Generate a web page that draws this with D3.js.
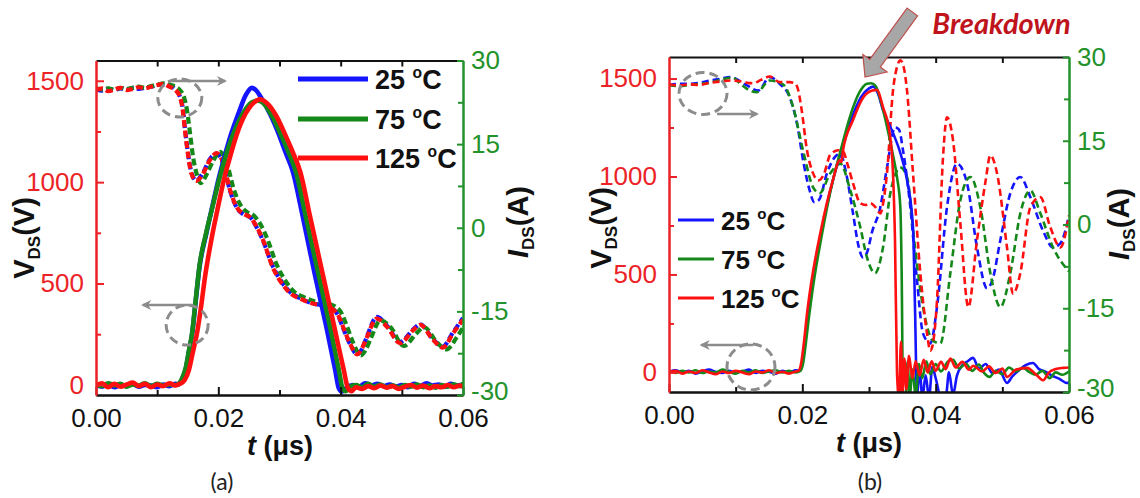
<!DOCTYPE html>
<html>
<head>
<meta charset="utf-8">
<script src="https://cdn.jsdelivr.net/npm/d3@7"></script>
<style>
  html, body { margin: 0; padding: 0; background: #ffffff; }
  svg { display: block; }
</style>
</head>
<body>
<svg id="fig" width="1140" height="498"></svg>
<script>
// ---------- axis ticks ----------
const timeDomain = [0, 0.06];
const timeTicks = [0, 0.02, 0.04, 0.06];
const timeMinor = [0.01, 0.03, 0.05];
const timeTop = [0.01, 0.02, 0.03, 0.04, 0.05];
const voltTicks = [0, 500, 1000, 1500];
const voltMinor = [250, 750, 1250];
const currDomain = [-30, 30];
const currTicks = [-30, -15, 0, 15, 30];
const currMinor = [-22.5, -7.5, 7.5, 22.5];
const temps = ["25", "75", "125"];

// ---------- (a) drain-source voltage V_DS [t (µs), V] ----------
const vA25 = [[0,-1],[0.001,-9],[0.002,2],[0.003,-12],[0.004,-1],[0.005,-6],[0.006,5],[0.007,-9],[0.008,-1],[0.009,-3],[0.010,-12],[0.011,2],[0.012,-6],[0.013,5],[0.0135,2],[0.0141,30],[0.0147,82],[0.0152,165],[0.0157,247],[0.0163,412],[0.0169,577],[0.018,742],[0.0191,891],[0.0201,1023],[0.0212,1146],[0.022,1229],[0.0233,1339],[0.0245,1430],[0.0255,1465],[0.0262,1452],[0.027,1416],[0.0285,1333],[0.0298,1243],[0.031,1146],[0.0322,1050],[0.0338,830],[0.0357,555],[0.0377,280],[0.0391,74],[0.0397,-17],[0.0402,-34],[0.041,-12],[0.042,-1],[0.043,-9],[0.044,8],[0.045,-3],[0.046,5],[0.047,-6],[0.048,2],[0.049,-9],[0.050,-1],[0.051,-12],[0.052,5],[0.053,-6],[0.054,8],[0.055,-3],[0.056,2],[0.057,-9],[0.058,5],[0.059,-3],[0.06,2]];
const vA75 = [[0,2],[0.001,-6],[0.002,8],[0.003,-3],[0.004,5],[0.005,-9],[0.006,2],[0.007,-3],[0.008,8],[0.009,-6],[0.010,5],[0.011,-3],[0.012,2],[0.013,-1],[0.0135,5],[0.0141,33],[0.0147,88],[0.0152,170],[0.0157,253],[0.0163,418],[0.0169,583],[0.018,748],[0.0191,885],[0.0201,1009],[0.0212,1127],[0.022,1201],[0.0233,1298],[0.0245,1361],[0.0255,1394],[0.0264,1402],[0.0272,1394],[0.0288,1325],[0.0303,1229],[0.0315,1146],[0.0327,1050],[0.0343,830],[0.0363,555],[0.0383,280],[0.0397,74],[0.0403,-17],[0.0408,-31],[0.0415,-9],[0.0425,-1],[0.0435,-12],[0.0445,5],[0.0455,-9],[0.0465,2],[0.0475,-12],[0.0485,-3],[0.0495,-14],[0.0505,-1],[0.0515,-9],[0.0525,2],[0.0535,-12],[0.0545,-3],[0.0555,-14],[0.0565,-1],[0.0575,-9],[0.0585,2],[0.0595,-6],[0.06,5]];
const vA125 = [[0,-3],[0.001,8],[0.002,-12],[0.003,5],[0.004,-9],[0.005,2],[0.006,11],[0.007,-6],[0.008,5],[0.009,-12],[0.010,2],[0.011,-6],[0.012,8],[0.013,-3],[0.0137,5],[0.0145,24],[0.0152,74],[0.0158,156],[0.0165,253],[0.0172,390],[0.0178,528],[0.0188,706],[0.0199,871],[0.021,1023],[0.022,1133],[0.0228,1215],[0.024,1311],[0.0252,1372],[0.0262,1402],[0.0268,1408],[0.028,1388],[0.0295,1325],[0.031,1229],[0.0322,1146],[0.0334,1050],[0.035,830],[0.037,555],[0.039,280],[0.0405,74],[0.0412,-17],[0.0418,-31],[0.0425,-12],[0.0435,-20],[0.0445,-6],[0.0455,-17],[0.0465,-3],[0.0475,-14],[0.0485,-6],[0.0495,-20],[0.0505,-9],[0.0515,-1],[0.0525,-14],[0.0535,-3],[0.0545,-17],[0.0555,-6],[0.0565,-12],[0.0575,-1],[0.0585,-12],[0.0595,-3],[0.06,-9]];

// ---------- (a) drain current I_DS [t (µs), A] ----------
const iA25 = [[0,24.8],[0.001,24.6],[0.002,24.9],[0.003,24.7],[0.004,25.0],[0.005,24.8],[0.006,25.1],[0.007,24.9],[0.008,25.1],[0.009,25.3],[0.010,25.6],[0.011,25.7],[0.012,25.5],[0.013,24.8],[0.0137,23.6],[0.0141,22.0],[0.0146,17.3],[0.0151,12.9],[0.0156,9.9],[0.0164,8.5],[0.0175,9.9],[0.0186,12.3],[0.0197,13.3],[0.0208,11.5],[0.0219,6.7],[0.023,3.6],[0.0241,2.4],[0.0252,1.9],[0.0263,0.0],[0.0273,-2.3],[0.0289,-6.9],[0.0306,-10.1],[0.0318,-11.6],[0.0333,-12.6],[0.0355,-13.6],[0.0377,-14.0],[0.0394,-15.4],[0.0404,-18.0],[0.0415,-20.8],[0.0427,-22.7],[0.0435,-21.7],[0.0443,-19.5],[0.0459,-16.0],[0.0476,-17.6],[0.0497,-20.5],[0.0519,-18.2],[0.053,-17.3],[0.0551,-20.0],[0.0567,-21.3],[0.0584,-18.7],[0.06,-16.2]];
const iA75 = [[0,25.0],[0.001,24.8],[0.002,25.0],[0.003,24.8],[0.004,25.1],[0.005,24.9],[0.006,25.1],[0.007,25.3],[0.008,25.1],[0.009,25.4],[0.010,25.6],[0.011,25.9],[0.012,25.7],[0.013,25.3],[0.0138,24.6],[0.0144,23.4],[0.0149,20.9],[0.0154,16.7],[0.0159,12.5],[0.0165,9.5],[0.0171,8.0],[0.0181,9.6],[0.0192,12.1],[0.0203,13.6],[0.0214,11.5],[0.0225,7.0],[0.0236,4.1],[0.0247,2.8],[0.0258,2.2],[0.0269,0.6],[0.0279,-1.7],[0.0295,-6.5],[0.0312,-9.9],[0.0324,-11.5],[0.0339,-12.4],[0.036,-13.3],[0.0382,-13.7],[0.0399,-14.9],[0.0409,-17.3],[0.042,-20.5],[0.0433,-22.9],[0.0441,-21.9],[0.0449,-19.9],[0.0465,-16.6],[0.0482,-17.9],[0.0503,-21.2],[0.0525,-18.8],[0.0536,-17.8],[0.0557,-20.5],[0.0573,-21.8],[0.059,-19.6],[0.06,-17.9]];
const iA125 = [[0,24.7],[0.001,25.0],[0.002,24.5],[0.003,24.8],[0.004,25.1],[0.005,24.7],[0.006,24.9],[0.007,25.2],[0.008,25.0],[0.009,25.3],[0.010,25.6],[0.011,25.8],[0.012,25.3],[0.013,24.7],[0.0137,23.5],[0.0141,21.7],[0.0146,17.0],[0.0151,12.7],[0.0156,9.7],[0.0164,8.4],[0.0175,9.7],[0.0186,12.1],[0.0197,13.4],[0.0208,11.6],[0.0219,6.8],[0.023,3.7],[0.0241,2.5],[0.0252,1.9],[0.0263,0.1],[0.0273,-2.2],[0.0289,-7.1],[0.0306,-10.3],[0.0318,-11.8],[0.0333,-12.7],[0.0355,-13.6],[0.0377,-14.1],[0.0394,-15.3],[0.0404,-17.8],[0.0415,-20.7],[0.0427,-22.7],[0.0435,-21.6],[0.0443,-19.6],[0.0459,-16.3],[0.0476,-17.8],[0.0497,-20.7],[0.0519,-18.3],[0.053,-17.4],[0.0551,-20.1],[0.0567,-21.5],[0.0584,-18.9],[0.06,-16.5]];

// ---------- (b) drain-source voltage V_DS [t (µs), V] ----------
const vB25 = [[0,3],[0.001,11],[0.002,0],[0.003,8],[0.004,-6],[0.005,5],[0.006,14],[0.007,3],[0.008,-3],[0.009,8],[0.010,0],[0.011,5],[0.012,14],[0.013,-3],[0.014,8],[0.015,3],[0.016,-6],[0.017,8],[0.018,0],[0.019,11],[0.0196,8],[0.02,43],[0.0204,142],[0.0209,290],[0.0214,419],[0.0228,704],[0.0246,983],[0.0259,1134],[0.0274,1297],[0.0288,1405],[0.03,1450],[0.0306,1459],[0.0313,1428],[0.0321,1339],[0.0336,1222],[0.0347,1120],[0.0357,983],[0.0366,741],[0.0369,333],[0.0372,-114],[0.0376,14],[0.038,-129],[0.0385,-15],[0.039,-129],[0.0395,28],[0.040,-29],[0.0408,-129],[0.0415,-129],[0.042,0],[0.0426,-114],[0.0432,-15],[0.044,37],[0.0448,57],[0.0456,74],[0.0465,20],[0.0475,43],[0.0485,-3],[0.0495,14],[0.0507,-54],[0.0515,-20],[0.0525,11],[0.0535,37],[0.0546,48],[0.0555,17],[0.0565,3],[0.0575,-17],[0.0585,-32],[0.0597,-54],[0.06,-52]];
const vB75 = [[0,5],[0.001,-3],[0.002,8],[0.003,0],[0.004,11],[0.005,-3],[0.006,5],[0.007,0],[0.008,14],[0.009,3],[0.010,-6],[0.011,8],[0.012,0],[0.013,11],[0.014,-3],[0.015,5],[0.016,11],[0.017,0],[0.018,8],[0.019,0],[0.0197,8],[0.0201,43],[0.0205,142],[0.021,285],[0.0215,413],[0.0229,698],[0.0246,983],[0.0258,1140],[0.0272,1311],[0.0285,1425],[0.0297,1473],[0.0303,1476],[0.031,1462],[0.0318,1382],[0.0327,1254],[0.0335,1126],[0.0342,997],[0.0347,843],[0.0349,507],[0.0351,-114],[0.0355,-129],[0.0358,57],[0.0361,-129],[0.0365,14],[0.037,-114],[0.0375,43],[0.038,-29],[0.0386,57],[0.0392,-9],[0.040,43],[0.0408,5],[0.0418,54],[0.0426,65],[0.0435,20],[0.0445,45],[0.0455,8],[0.0465,40],[0.0472,0],[0.0481,-23],[0.049,8],[0.050,-9],[0.051,25],[0.052,5],[0.0531,23],[0.054,3],[0.055,-12],[0.056,8],[0.0571,-29],[0.058,0],[0.059,-12],[0.06,5]];
const vB125 = [[0,0],[0.001,8],[0.002,-6],[0.003,5],[0.004,-3],[0.005,11],[0.006,0],[0.007,-9],[0.008,5],[0.009,-3],[0.010,8],[0.011,0],[0.012,-9],[0.013,5],[0.014,0],[0.015,11],[0.016,-3],[0.017,3],[0.018,-6],[0.019,5],[0.0194,8],[0.0198,43],[0.0202,142],[0.0207,299],[0.0212,427],[0.0227,712],[0.0246,983],[0.0256,1083],[0.0259,1074],[0.0261,1134],[0.0276,1288],[0.0291,1402],[0.0305,1439],[0.0312,1442],[0.0321,1354],[0.0331,1222],[0.0336,1017],[0.0339,675],[0.0342,-3],[0.0345,-129],[0.0348,157],[0.035,-129],[0.0353,71],[0.0356,-86],[0.036,85],[0.0365,-29],[0.037,57],[0.0376,-15],[0.0382,65],[0.0388,0],[0.0394,57],[0.040,8],[0.0408,54],[0.0415,17],[0.0422,71],[0.043,25],[0.044,54],[0.045,14],[0.0456,34],[0.047,5],[0.048,31],[0.049,-3],[0.050,20],[0.0507,-23],[0.052,14],[0.0537,23],[0.055,-9],[0.0561,-40],[0.057,0],[0.058,17],[0.0591,23],[0.06,25]];

// ---------- (b) drain current I_DS [t (µs), A] ----------
const iB25 = [[0,25.0],[0.0015,25.2],[0.003,25.2],[0.0045,25.4],[0.0062,25.8],[0.0077,26.1],[0.0092,26.4],[0.0105,25.8],[0.0117,24.9],[0.0134,24.0],[0.0151,26.4],[0.0166,25.2],[0.0181,22.8],[0.0192,18.1],[0.0202,10.9],[0.0211,6.1],[0.0218,4.0],[0.0225,4.4],[0.0237,9.2],[0.0249,12.1],[0.0257,12.7],[0.0265,9.6],[0.0276,2.0],[0.0284,-3.7],[0.0291,-5.9],[0.0298,-4.7],[0.0304,-1.6],[0.0317,3.1],[0.0327,10.2],[0.0339,17.4],[0.0345,17.0],[0.0351,13.3],[0.0362,3.1],[0.0372,-10.0],[0.0381,-19.5],[0.0392,-21.3],[0.0402,-14.8],[0.0417,3.1],[0.0432,10.9],[0.0447,7.4],[0.0462,-4.1],[0.0477,-11.4],[0.0485,-10.0],[0.0497,-2.8],[0.0512,5.6],[0.0527,8.5],[0.0542,4.9],[0.0561,-1.1],[0.0576,-4.1],[0.0587,-3.4],[0.06,1.6]];
const iB75 = [[0,24.9],[0.0015,24.8],[0.003,25.0],[0.0045,25.2],[0.0062,25.4],[0.0077,25.9],[0.0095,26.3],[0.0108,25.1],[0.0121,24.0],[0.0132,23.7],[0.0151,25.8],[0.0171,25.1],[0.0186,21.1],[0.0201,13.3],[0.0216,6.7],[0.0226,5.6],[0.0242,9.2],[0.0257,10.9],[0.0272,6.1],[0.0287,-0.5],[0.0297,-5.9],[0.0309,-8.7],[0.0321,-4.1],[0.0332,5.6],[0.0347,10.2],[0.0357,8.5],[0.0369,-4.1],[0.0381,-14.8],[0.0396,-20.8],[0.0407,-21.3],[0.0422,-8.7],[0.0437,4.3],[0.0452,8.5],[0.0467,3.1],[0.0482,-8.7],[0.0497,-14.8],[0.0512,-8.7],[0.0527,2.0],[0.0542,6.1],[0.0557,2.0],[0.0576,-4.1],[0.06,-8.4]];
const iB125 = [[0,25.1],[0.0015,24.9],[0.003,25.1],[0.0045,25.0],[0.0062,25.4],[0.0077,25.6],[0.0092,25.8],[0.0105,25.7],[0.0117,25.4],[0.0126,25.3],[0.0138,25.9],[0.0151,26.5],[0.0166,25.5],[0.0181,25.5],[0.0189,25.3],[0.0194,24.0],[0.0199,20.5],[0.0207,13.3],[0.0216,9.2],[0.0224,7.9],[0.0232,8.9],[0.0242,12.5],[0.0254,13.3],[0.0261,13.1],[0.0268,10.7],[0.0276,7.4],[0.0287,3.8],[0.0295,3.5],[0.0302,3.8],[0.0309,3.2],[0.0317,2.0],[0.0322,4.4],[0.0327,9.2],[0.0336,24.0],[0.0342,28.2],[0.0347,29.4],[0.0352,28.2],[0.0357,24.0],[0.0366,9.2],[0.0377,-8.7],[0.0387,-19.5],[0.0392,-22.6],[0.0397,-20.5],[0.0402,-13.6],[0.0411,12.0],[0.0417,19.2],[0.0426,15.1],[0.0437,0.2],[0.0449,-14.8],[0.0462,-2.8],[0.0475,7.9],[0.0482,12.4],[0.0492,9.2],[0.0507,-4.1],[0.0516,-12.4],[0.0527,-8.7],[0.0542,3.1],[0.0557,4.9],[0.0572,-0.5],[0.0587,-4.1],[0.06,1.6]];

// ---------- styling ----------
const FONT = "'Liberation Sans', Arial, Helvetica, sans-serif";
const seriesColors = ["#1414ff", "#15881a", "#ff1010"];
const voltColor = "#ec2226";
const currColor = "#23922a";
const markColor = "#8c8c8c";
const plainNumber = d => String(d);   // keeps "1500" and "-15" (ASCII hyphen)

const svg = d3.select("#fig");
const defs = svg.append("defs");
defs.append("marker")
  .attr("id", "grayHead").attr("viewBox", "0 0 10 10")
  .attr("refX", 8).attr("refY", 5)
  .attr("markerWidth", 4.2).attr("markerHeight", 4.2)
  .attr("markerUnits", "strokeWidth").attr("orient", "auto")
  .append("path").attr("d", "M0,0 L10,5 L0,10 L3,5 z").attr("fill", markColor);

const panels = [
  {
    id: "a", left: 96, right: 463, top: 60.5, bottom: 395, vDomain: [-50, 1600],
    volt: [vA25, vA75, vA125], curr: [iA25, iA75, iA125],
    solidW: 4.6, dashW: 4.2, dash: "7,3.5", axisW: 2,
    legend: { x0: 298, x1: 368, tx: 375, ys: [79, 119, 158], w: 5, font: 27 },
    vTitle: { x: 34, y: 238 }, iTitle: { x: 528, y: 222 },
    tTitle: { x: 280, y: 455 }, tag: { x: 222, y: 490, text: "(a)" },
    rings: [{ t: 0.0137, v: 1415, rx: 22, ry: 19 }, { t: 0.0149, v: 295, rx: 21, ry: 20 }],
    pointers: [{ t0: 0.0124, v0: 1499, t1: 0.0211, v1: 1499 }, { t0: 0.0159, v0: 394, t1: 0.0077, v1: 394 }]
  },
  {
    id: "b", left: 669, right: 1069, top: 57, bottom: 392, vDomain: [-100, 1610],
    volt: [vB25, vB75, vB125], curr: [iB25, iB75, iB125],
    solidW: 2.6, dashW: 2.6, dash: "7,4", axisW: 2,
    legend: { x0: 678, x1: 714, tx: 721, ys: [220, 259, 298], w: 3, font: 26 },
    vTitle: { x: 611, y: 228 }, iTitle: { x: 1129, y: 224 },
    tTitle: { x: 869, y: 452 }, tag: { x: 870, y: 490, text: "(b)" },
    rings: [{ t: 0.0051, v: 1424, rx: 24, ry: 21 }, { t: 0.0123, v: 28, rx: 24, ry: 23 }],
    pointers: [{ t0: 0.0072, v0: 1319, t1: 0.0132, v1: 1319 }, { t0: 0.0126, v0: 140, t1: 0.0049, v1: 140 }],
    breakdown: { tipT: 0.0294, tipV: 1508, tailT: 0.0365, tailV: 1840, textT: 0.0395, textV: 1728 }
  }
];

function styleAxis(sel, color, width, size) {
  sel.select(".domain").attr("stroke", color).attr("stroke-width", width);
  sel.selectAll(".tick line").attr("stroke", color).attr("stroke-width", width);
  sel.selectAll(".tick text").attr("fill", color).attr("font-size", size).attr("font-family", FONT);
}

function drawPanel(p) {
  const x = d3.scaleLinear().domain(timeDomain).range([p.left, p.right]);
  const yV = d3.scaleLinear().domain(p.vDomain).range([p.bottom, p.top]);
  const yI = d3.scaleLinear().domain(currDomain).range([p.bottom, p.top]);
  const g = svg.append("g").attr("class", "panel-" + p.id);

  defs.append("clipPath").attr("id", "clip-" + p.id)
    .append("rect").attr("x", p.left).attr("y", p.top)
    .attr("width", p.right - p.left).attr("height", p.bottom - p.top);

  const plot = g.append("g").attr("clip-path", `url(#clip-${p.id})`);
  const lineI = d3.line().x(d => x(d[0])).y(d => yI(d[1])).curve(d3.curveMonotoneX);
  const lineV = d3.line().x(d => x(d[0])).y(d => yV(d[1])).curve(d3.curveMonotoneX);

  // current traces (dashed, right axis)
  p.curr.forEach((s, k) => {
    plot.append("path").datum(s).attr("d", lineI)
      .attr("fill", "none").attr("stroke", seriesColors[k])
      .attr("stroke-width", p.dashW).attr("stroke-dasharray", p.dash)
      .attr("stroke-linejoin", "round");
  });
  // voltage traces (solid, left axis)
  p.volt.forEach((s, k) => {
    plot.append("path").datum(s).attr("d", lineV)
      .attr("fill", "none").attr("stroke", seriesColors[k])
      .attr("stroke-width", p.solidW).attr("stroke-linejoin", "round")
      .attr("stroke-linecap", "round");
  });

  // axes
  const fs = 26;
  const top = g.append("g").attr("transform", `translate(0,${p.top})`)
    .call(d3.axisTop(x).tickValues(timeTop).tickSize(-6).tickSizeOuter(0).tickFormat(() => ""));
  styleAxis(top, "#111", p.axisW, fs);

  const bottomMinor = g.append("g").attr("transform", `translate(0,${p.bottom})`)
    .call(d3.axisBottom(x).tickValues(timeMinor).tickSize(-5).tickSizeOuter(0).tickFormat(() => ""));
  styleAxis(bottomMinor, "#111", p.axisW, fs);
  const bottom = g.append("g").attr("transform", `translate(0,${p.bottom})`)
    .call(d3.axisBottom(x).tickValues(timeTicks).tickSize(-8).tickSizeOuter(0).tickPadding(14).tickFormat(d3.format(".2f")));
  styleAxis(bottom, "#111", p.axisW, fs);

  const leftMinor = g.append("g").attr("transform", `translate(${p.left},0)`)
    .call(d3.axisLeft(yV).tickValues(voltMinor).tickSize(-5).tickSizeOuter(0).tickFormat(() => ""));
  styleAxis(leftMinor, voltColor, p.axisW, fs);
  const left = g.append("g").attr("transform", `translate(${p.left},0)`)
    .call(d3.axisLeft(yV).tickValues(voltTicks).tickSize(-8).tickSizeOuter(0).tickPadding(12).tickFormat(plainNumber));
  styleAxis(left, voltColor, p.axisW, fs);

  const rightMinor = g.append("g").attr("transform", `translate(${p.right},0)`)
    .call(d3.axisRight(yI).tickValues(currMinor).tickSize(-5).tickSizeOuter(0).tickFormat(() => ""));
  styleAxis(rightMinor, currColor, p.axisW, fs);
  const right = g.append("g").attr("transform", `translate(${p.right},0)`)
    .call(d3.axisRight(yI).tickValues(currTicks).tickSize(-6).tickSizeOuter(0).tickPadding(8).tickFormat(plainNumber));
  styleAxis(right, currColor, p.axisW, fs);
  // lift the lowest current label a little so it clears the last time label
  right.selectAll(".tick text").filter(d => d === currDomain[0]).attr("y", -4);

  // axis titles
  const vt = g.append("text").attr("font-family", FONT).attr("font-weight", "bold")
    .attr("font-size", 29).attr("fill", "#111").attr("text-anchor", "middle")
    .attr("transform", `translate(${p.vTitle.x},${p.vTitle.y}) rotate(-90)`);
  vt.append("tspan").text("V");
  vt.append("tspan").attr("font-size", 17).attr("dy", 6).text("DS");
  vt.append("tspan").attr("dy", -6).text("(V)");

  const it = g.append("text").attr("font-family", FONT).attr("font-weight", "bold")
    .attr("font-size", 29).attr("fill", "#111").attr("text-anchor", "middle")
    .attr("transform", `translate(${p.iTitle.x},${p.iTitle.y}) rotate(-90)`);
  it.append("tspan").attr("font-style", "italic").text("I");
  it.append("tspan").attr("font-size", 17).attr("dy", 6).text("DS");
  it.append("tspan").attr("dy", -6).text("(A)");

  const tt = g.append("text").attr("font-family", FONT).attr("font-weight", "bold")
    .attr("font-size", 27).attr("fill", "#111").attr("text-anchor", "middle")
    .attr("x", p.tTitle.x).attr("y", p.tTitle.y);
  tt.append("tspan").attr("font-style", "italic").text("t");
  tt.append("tspan").text(" (\u03bcs)");

  g.append("text").attr("x", p.tag.x).attr("y", p.tag.y).attr("text-anchor", "middle")
    .attr("font-family", "Lato, 'Open Sans', sans-serif").attr("font-size", 23)
    .attr("fill", "#222").text(p.tag.text);

  // legend
  temps.forEach((t, k) => {
    const ly = p.legend.ys[k];
    g.append("line").attr("x1", p.legend.x0).attr("x2", p.legend.x1)
      .attr("y1", ly).attr("y2", ly).attr("stroke", seriesColors[k])
      .attr("stroke-width", p.legend.w);
    const lt = g.append("text").attr("x", p.legend.tx).attr("y", ly + 9.5)
      .attr("font-family", FONT).attr("font-weight", "bold")
      .attr("font-size", p.legend.font).attr("fill", "#111");
    lt.append("tspan").text(t + " ");
    lt.append("tspan").attr("font-size", p.legend.font * 0.58).attr("dy", -11).text("o");
    lt.append("tspan").attr("dy", 11).text("C");
  });

  // dashed rings and pointers marking which axis each trace group uses
  p.rings.forEach(r => {
    g.append("ellipse").attr("cx", x(r.t)).attr("cy", yV(r.v))
      .attr("rx", r.rx).attr("ry", r.ry).attr("fill", "none")
      .attr("stroke", markColor).attr("stroke-width", 3).attr("stroke-dasharray", "9,5");
  });
  p.pointers.forEach(a => {
    g.append("line").attr("x1", x(a.t0)).attr("y1", yV(a.v0))
      .attr("x2", x(a.t1)).attr("y2", yV(a.v1))
      .attr("stroke", markColor).attr("stroke-width", 2.4)
      .attr("marker-end", "url(#grayHead)");
  });

  // breakdown call-out
  if (p.breakdown) {
    const b = p.breakdown;
    const tip = [x(b.tipT), yV(b.tipV)], tail = [x(b.tailT), yV(b.tailV)];
    const dx = tip[0] - tail[0], dy = tip[1] - tail[1];
    const len = Math.hypot(dx, dy);
    const u = [dx / len, dy / len], n = [-u[1], u[0]];
    const headL = 17, headW = 15, shaftW = 6.5;
    const base = [tip[0] - u[0] * headL, tip[1] - u[1] * headL];
    const pt = (o, s) => [o[0] + n[0] * s, o[1] + n[1] * s];
    const poly = [pt(tail, shaftW), pt(base, shaftW), pt(base, headW), tip,
                  pt(base, -headW), pt(base, -shaftW), pt(tail, -shaftW)];
    g.append("path").attr("d", "M" + poly.map(q => q.join(",")).join("L") + "Z")
      .attr("fill", "#a7a7a7").attr("stroke", "#c0504d").attr("stroke-width", 1.2);
    g.append("text").attr("x", x(b.textT)).attr("y", yV(b.textV))
      .attr("font-family", "Lato, 'Open Sans', sans-serif").attr("font-weight", "bold")
      .attr("font-style", "italic").attr("font-size", 29).attr("fill", "#c0141d")
      .text("Breakdown");
  }
}

panels.forEach(drawPanel);
</script>
</body>
</html>
